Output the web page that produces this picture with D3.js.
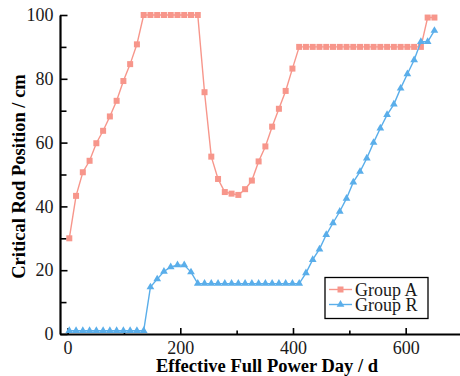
<!DOCTYPE html>
<html>
<head>
<meta charset="utf-8">
<script src="https://cdn.jsdelivr.net/npm/d3@7"></script>
<style>
  html, body { margin: 0; padding: 0; background: #fff; }
  svg { display: block; }
</style>
</head>
<body>
<svg id="chart" width="460" height="376"></svg>
<script>
// Effective full power days for each calculation step
const days = [3, 15, 27, 39, 51, 63, 75, 87, 99, 111, 123, 135, 147, 159, 171, 183, 195, 207, 219, 231,
  243, 255, 267, 279, 291, 303, 315, 327, 339, 351, 363, 375, 387, 399, 411, 423, 435, 447, 459, 471,
  483, 495, 507, 519, 531, 543, 555, 567, 579, 591, 603, 615, 627, 639, 651];

// Critical rod positions (cm)
const groupA = [30, 43.3, 50.7, 54.3, 59.8, 63.7, 68.2, 73.1, 79.3, 84.6, 90.8,
  100, 100, 100, 100, 100, 100, 100, 100, 100,
  75.8,
  55.6, 48.6, 44.5, 44.0, 43.6, 45.4, 48.1, 54.1, 58.8, 65.0, 70.6, 76.2,
  83.2,
  90, 90, 90, 90, 90, 90, 90, 90, 90, 90, 90, 90, 90, 90, 90, 90, 90, 90, 90,
  99.2, 99.2];

const groupR = [1, 1, 1, 1, 1, 1, 1, 1, 1, 1, 1, 1,
  14.7, 17.2, 19.6, 21.0, 21.6, 21.6, 19.4, 15.8,
  15.8, 15.8, 15.8, 15.8, 15.8, 15.8, 15.8, 15.8, 15.8, 15.8, 15.8, 15.8, 15.8, 15.8, 15.8,
  19.1, 23.3, 26.6, 31.1, 34.8, 38.4, 42.5, 47.6, 50.9,
  55.1, 60.0, 64.5, 68.7, 72.0, 77.0, 81.5, 85.9, 91.6, 91.6, 95.1];

const seriesNames = ["Group A", "Group R"];
const xMajorTicks = [0, 200, 400, 600];
const xMinorTicks = [100, 300, 500];
const yMajorTicks = [0, 20, 40, 60, 80, 100];
const yMinorTicks = [10, 30, 50, 70, 90];
const xTitle = "Effective Full Power Day / d";
const yTitle = "Critical Rod Position / cm";

const colA = "#f7968b";
const colR = "#5aaeea";
const serif = "'Liberation Serif', 'Times New Roman', serif";

const svg = d3.select("#chart");
const plotLeft = 60, plotRight = 460, plotTop = 15, plotBottom = 334;

const x = d3.scaleLinear().domain([-13.5, 696.4]).range([plotLeft, plotRight]);
const y = d3.scaleLinear().domain([0, 100]).range([plotBottom, plotTop]);

// Axes with inward ticks
const fontSize = 18;
svg.append("g").attr("transform", `translate(0,${plotBottom})`)
  .call(d3.axisBottom(x).tickValues(xMajorTicks).tickSizeInner(-6).tickSizeOuter(0).tickPadding(7).tickFormat(d3.format("d")));
svg.append("g").attr("transform", `translate(0,${plotBottom})`)
  .call(d3.axisBottom(x).tickValues(xMinorTicks).tickSizeInner(-3.5).tickSizeOuter(0).tickFormat(""))
  .call(g => g.select(".domain").remove());

svg.append("g").attr("transform", `translate(${plotLeft},0)`)
  .call(d3.axisLeft(y).tickValues(yMajorTicks).tickSizeInner(-7.5).tickSizeOuter(0).tickPadding(6.5).tickFormat(d3.format("d")));
svg.append("g").attr("transform", `translate(${plotLeft},0)`)
  .call(d3.axisLeft(y).tickValues(yMinorTicks).tickSizeInner(-6.5).tickSizeOuter(0).tickFormat(""))
  .call(g => g.select(".domain").remove());

svg.selectAll(".tick line").attr("stroke", "#000").attr("stroke-width", 1.6);
svg.selectAll(".domain").attr("stroke", "#000").attr("stroke-width", 2.2);
svg.selectAll(".tick text")
  .style("font-family", serif).style("font-size", fontSize + "px").attr("fill", "#1a1a1a");

// Axis titles
svg.append("text")
  .attr("x", 267).attr("y", 372)
  .attr("text-anchor", "middle")
  .style("font-family", serif).style("font-weight", "bold").style("font-size", "18.5px").attr("fill", "#000")
  .text(xTitle);

svg.append("text")
  .attr("transform", `translate(24.5,176.5) rotate(-90)`)
  .attr("text-anchor", "middle")
  .style("font-family", serif).style("font-weight", "bold").style("font-size", "18.5px").attr("fill", "#000")
  .text(yTitle);

// Series
const rowsA = days.map((d, i) => ({ d, v: groupA[i] }));
const rowsR = days.map((d, i) => ({ d, v: groupR[i] }));
const line = d3.line().x(p => x(p.d)).y(p => y(p.v));
const tri = d3.symbol().type(d3.symbolTriangle).size(26);
const sq = 6;

const gA = svg.append("g");
gA.append("path").datum(rowsA).attr("d", line)
  .attr("fill", "none").attr("stroke", colA).attr("stroke-width", 1.4);
gA.selectAll("rect").data(rowsA).join("rect")
  .attr("x", p => x(p.d) - sq / 2).attr("y", p => y(p.v) - sq / 2)
  .attr("width", sq).attr("height", sq).attr("fill", colA);

const gR = svg.append("g");
gR.append("path").datum(rowsR).attr("d", line)
  .attr("fill", "none").attr("stroke", colR).attr("stroke-width", 1.4);
gR.selectAll("path.m").data(rowsR).join("path").attr("class", "m")
  .attr("transform", p => `translate(${x(p.d)},${y(p.v)})`)
  .attr("d", tri).attr("fill", colR);

// Legend
const lg = svg.append("g").attr("transform", "translate(325,277.5)");
lg.append("rect").attr("width", 103).attr("height", 41)
  .attr("fill", "#fff").attr("stroke", "#000").attr("stroke-width", 1.3);
const rowsY = [12, 27];
seriesNames.forEach((name, i) => {
  const c = i === 0 ? colA : colR;
  const yy = rowsY[i];
  lg.append("line").attr("x1", 4).attr("x2", 27).attr("y1", yy).attr("y2", yy)
    .attr("stroke", c).attr("stroke-width", 1.4);
  if (i === 0) {
    lg.append("rect").attr("x", 15.5 - sq / 2).attr("y", yy - sq / 2)
      .attr("width", sq).attr("height", sq).attr("fill", c);
  } else {
    lg.append("path").attr("transform", `translate(15.5,${yy})`).attr("d", tri).attr("fill", c);
  }
  lg.append("text").attr("x", 30).attr("y", yy + 6)
    .style("font-family", serif).style("font-size", fontSize + "px").attr("fill", "#1a1a1a").text(name);
});
</script>
</body>
</html>
